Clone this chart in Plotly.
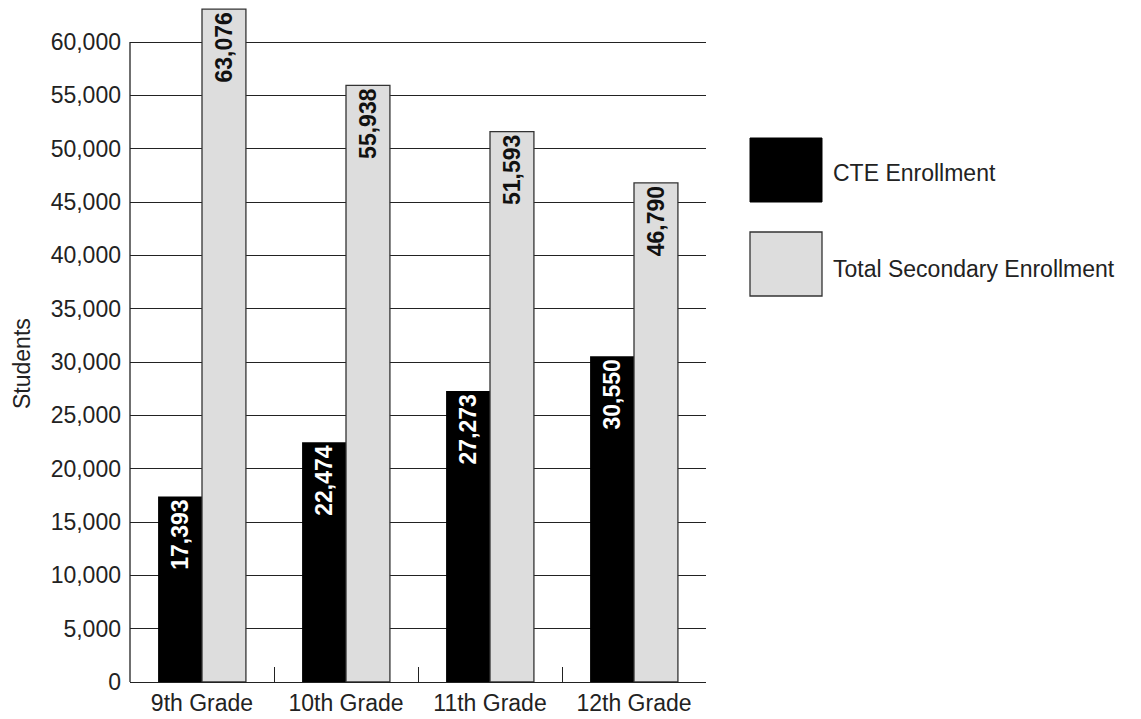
import plotly.graph_objects as go

grades = ["9th Grade", "10th Grade", "11th Grade", "12th Grade"]
cte_enrollment = [17393, 22474, 27273, 30550]
total_secondary = [63076, 55938, 51593, 46790]
y_ticks = list(range(0, 60001, 5000))

FONT = "Liberation Sans, Arial, sans-serif"
TEXT = "#222222"

# plot-area geometry in pixels
W, H = 1141, 719
L, R, T, B = 130, 706, 0, 682
Y_TOP_VALUE = 60000
Y_MAX = Y_TOP_VALUE * (B - T) / (B - 42)


def px_x(px):
    return (px - L) / (R - L)


def px_y(py):
    return (B - py) / (B - T)


fig = go.Figure()
fig.add_trace(go.Bar(
    x=grades, y=cte_enrollment, name="CTE Enrollment",
    marker=dict(color="#000000", line=dict(color="#000000", width=0)),
    text=[f"{v:,}" for v in cte_enrollment],
    textposition="inside", insidetextanchor="end", textangle=-90,
    textfont=dict(family=FONT, size=23, color="#ffffff", weight="bold"),
    showlegend=False, hoverinfo="skip",
))
fig.add_trace(go.Bar(
    x=grades, y=total_secondary, name="Total Secondary Enrollment",
    marker=dict(color="#dddddd", line=dict(color="#333333", width=1.3)),
    text=[f"{v:,}" for v in total_secondary],
    textposition="inside", insidetextanchor="end", textangle=-90,
    textfont=dict(family=FONT, size=23, color="#111111", weight="bold"),
    showlegend=False, hoverinfo="skip", cliponaxis=False,
))

shapes = [
    # left axis line, stopping at the top gridline
    dict(type="line", xref="paper", yref="y", x0=0, x1=0, y0=0, y1=Y_TOP_VALUE,
         line=dict(color="#222222", width=1.3), layer="above"),
    # legend swatches
    dict(type="rect", xref="paper", yref="paper",
         x0=px_x(750), x1=px_x(822), y0=px_y(202), y1=px_y(138),
         fillcolor="#000000", line=dict(color="#000000", width=1)),
    dict(type="rect", xref="paper", yref="paper",
         x0=px_x(750), x1=px_x(822), y0=px_y(296), y1=px_y(232),
         fillcolor="#dddddd", line=dict(color="#333333", width=1.3)),
]

annotations = [
    dict(text="CTE Enrollment", xref="paper", yref="paper",
         x=px_x(831), y=px_y(173), xanchor="left", yanchor="middle",
         showarrow=False, font=dict(family=FONT, size=23, color=TEXT)),
    dict(text="Total Secondary Enrollment", xref="paper", yref="paper",
         x=px_x(831), y=px_y(269), xanchor="left", yanchor="middle",
         showarrow=False, font=dict(family=FONT, size=23, color=TEXT)),
    dict(text="Students", xref="paper", yref="paper",
         x=px_x(22), y=px_y(364), xanchor="center", yanchor="middle",
         textangle=-90, showarrow=False,
         font=dict(family=FONT, size=23, color=TEXT)),
]

fig.update_layout(
    width=W, height=H,
    margin=dict(l=L, r=W - R, t=T, b=H - B),
    paper_bgcolor="#ffffff", plot_bgcolor="#ffffff",
    barmode="group", bargap=0.39, bargroupgap=0,
    shapes=shapes, annotations=annotations,
    font=dict(family=FONT, size=23, color=TEXT),
    xaxis=dict(
        type="category", tickson="boundaries", ticks="inside", ticklen=15,
        tickwidth=1.3, tickcolor="#222222",
        showline=True, linecolor="#222222", linewidth=1.3,
        showgrid=False, tickfont=dict(family=FONT, size=23, color=TEXT),
    ),
    yaxis=dict(
        range=[0, Y_MAX], tickvals=y_ticks,
        ticktext=[f"{v:,}" for v in y_ticks],
        showgrid=True, gridcolor="#222222", gridwidth=1.3,
        zeroline=False, showline=False, ticks="",
        ticklabelstandoff=8,
        tickfont=dict(family=FONT, size=23, color=TEXT),
    ),
)

fig.write_html("out.html")
